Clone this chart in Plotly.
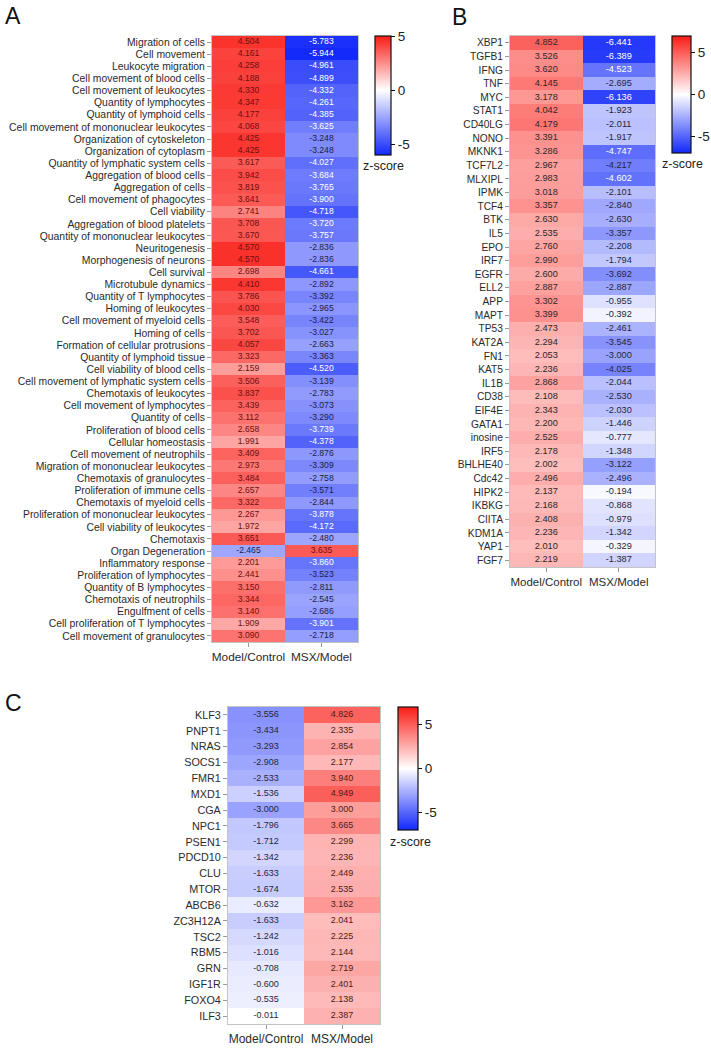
import plotly.graph_objects as go

W, H = 711, 1050
FONT = "Liberation Sans, Arial, Helvetica, sans-serif"

columns = ["Model/Control", "MSX/Model"]

# ---------------- Panel A ----------------
a_labels = [
    "Migration of cells", "Cell movement", "Leukocyte migration", "Cell movement of blood cells",
    "Cell movement of leukocytes", "Quantity of lymphocytes", "Quantity of lymphoid cells",
    "Cell movement of mononuclear leukocytes", "Organization of cytoskeleton", "Organization of cytoplasm",
    "Quantity of lymphatic system cells", "Aggregation of blood cells", "Aggregation of cells",
    "Cell movement of phagocytes", "Cell viability", "Aggregation of blood platelets",
    "Quantity of mononuclear leukocytes", "Neuritogenesis", "Morphogenesis of neurons", "Cell survival",
    "Microtubule dynamics", "Quantity of T lymphocytes", "Homing of leukocytes",
    "Cell movement of myeloid cells", "Homing of cells", "Formation of cellular protrusions",
    "Quantity of lymphoid tissue", "Cell viability of blood cells", "Cell movement of lymphatic system cells",
    "Chemotaxis of leukocytes", "Cell movement of lymphocytes", "Quantity of cells",
    "Proliferation of blood cells", "Cellular homeostasis", "Cell movement of neutrophils",
    "Migration of mononuclear leukocytes", "Chemotaxis of granulocytes", "Proliferation of immune cells",
    "Chemotaxis of myeloid cells", "Proliferation of mononuclear leukocytes", "Cell viability of leukocytes",
    "Chemotaxis", "Organ Degeneration", "Inflammatory response", "Proliferation of lymphocytes",
    "Quantity of B lymphocytes", "Chemotaxis of neutrophils", "Engulfment of cells",
    "Cell proliferation of T lymphocytes", "Cell movement of granulocytes",
]
a_model_control = [
    4.504, 4.161, 4.258, 4.188, 4.330, 4.347, 4.177, 4.068, 4.425, 4.425,
    3.617, 3.942, 3.819, 3.641, 2.741, 3.708, 3.670, 4.570, 4.570, 2.698,
    4.410, 3.786, 4.030, 3.548, 3.702, 4.057, 3.323, 2.159, 3.506, 3.837,
    3.439, 3.112, 2.658, 1.991, 3.409, 2.973, 3.484, 2.657, 3.322, 2.267,
    1.972, 3.651, -2.465, 2.201, 2.441, 3.150, 3.344, 3.140, 1.909, 3.090,
]
a_msx_model = [
    -5.783, -5.944, -4.961, -4.899, -4.332, -4.261, -4.385, -3.625, -3.248, -3.248,
    -4.027, -3.684, -3.765, -3.900, -4.718, -3.720, -3.757, -2.836, -2.836, -4.661,
    -2.892, -3.392, -2.965, -3.422, -3.027, -2.663, -3.363, -4.520, -3.139, -2.783,
    -3.073, -3.290, -3.739, -4.378, -2.876, -3.309, -2.758, -3.571, -2.844, -3.878,
    -4.172, -2.480, 3.635, -3.860, -3.523, -2.811, -2.545, -2.686, -3.901, -2.718,
]

# ---------------- Panel B ----------------
b_labels = [
    "XBP1", "TGFB1", "IFNG", "TNF", "MYC", "STAT1", "CD40LG", "NONO", "MKNK1", "TCF7L2",
    "MLXIPL", "IPMK", "TCF4", "BTK", "IL5", "EPO", "IRF7", "EGFR", "ELL2", "APP",
    "MAPT", "TP53", "KAT2A", "FN1", "KAT5", "IL1B", "CD38", "EIF4E", "GATA1", "inosine",
    "IRF5", "BHLHE40", "Cdc42", "HIPK2", "IKBKG", "CIITA", "KDM1A", "YAP1", "FGF7",
]
b_model_control = [
    4.852, 3.526, 3.620, 4.145, 3.178, 4.042, 4.179, 3.391, 3.286, 2.967,
    2.983, 3.018, 3.357, 2.630, 2.535, 2.760, 2.990, 2.600, 2.887, 3.302,
    3.399, 2.473, 2.294, 2.053, 2.236, 2.868, 2.108, 2.343, 2.200, 2.525,
    2.178, 2.002, 2.496, 2.137, 2.168, 2.408, 2.236, 2.010, 2.219,
]
b_msx_model = [
    -6.441, -6.389, -4.523, -2.695, -6.136, -1.923, -2.011, -1.917, -4.747, -4.217,
    -4.602, -2.101, -2.840, -2.630, -3.357, -2.208, -1.794, -3.692, -2.887, -0.955,
    -0.392, -2.461, -3.545, -3.000, -4.025, -2.044, -2.530, -2.030, -1.446, -0.777,
    -1.348, -3.122, -2.496, -0.194, -0.868, -0.979, -1.342, -0.329, -1.387,
]

# ---------------- Panel C ----------------
c_labels = [
    "KLF3", "PNPT1", "NRAS", "SOCS1", "FMR1", "MXD1", "CGA", "NPC1", "PSEN1", "PDCD10",
    "CLU", "MTOR", "ABCB6", "ZC3H12A", "TSC2", "RBM5", "GRN", "IGF1R", "FOXO4", "ILF3",
]
c_model_control = [
    -3.556, -3.434, -3.293, -2.908, -2.533, -1.536, -3.000, -1.796, -1.712, -1.342,
    -1.633, -1.674, -0.632, -1.633, -1.242, -1.016, -0.708, -0.600, -0.535, -0.011,
]
c_msx_model = [
    4.826, 2.335, 2.854, 2.177, 3.940, 4.949, 3.000, 3.665, 2.299, 2.236,
    2.449, 2.535, 3.162, 2.041, 2.225, 2.144, 2.719, 2.401, 2.138, 2.387,
]

BLUE = "rgb(18,40,250)"
RED = "rgb(250,28,22)"


def px_x(p):
    return p / W


def px_y(p):
    return 1 - p / H


panels = [
    dict(labels=a_labels, c1=a_model_control, c2=a_msx_model, box=(212, 358, 36, 642),
         zmin=-6, zmax=5, cb=(375, 391, 36, 155), lab=10.4, val=8.6, col=11.8,
         pos_col="#6a1010", neg_col="#202048", thr=-3.6, zs=(383, 166)),
    dict(labels=b_labels, c1=b_model_control, c2=b_msx_model, box=(510, 655, 36, 567),
         zmin=-7, zmax=7, cb=(672, 691, 36, 153), lab=10.2, val=9.2, col=11.5,
         pos_col="#2e2626", neg_col="#26263a", thr=-4.4, zs=(682, 164)),
    dict(labels=c_labels, c1=c_model_control, c2=c_msx_model, box=(228, 380, 707, 1024),
         zmin=-7, zmax=7, cb=(398, 418, 707, 830), lab=10.8, val=9, col=12,
         pos_col="#4a1c1c", neg_col="#26263a", thr=-9, zs=(410, 842)),
]

fig = go.Figure()
layout_axes = {}
annotations = []

for i, p in enumerate(panels):
    n = i + 1
    xa = "x" if n == 1 else f"x{n}"
    ya = "y" if n == 1 else f"y{n}"
    x0, x1, y0, y1 = p["box"]
    nrows = len(p["labels"])
    mid = -p["zmin"] / (p["zmax"] - p["zmin"])
    z = [[a, b] for a, b in zip(p["c1"], p["c2"])]
    cbx0, cbx1, cby0, cby1 = p["cb"]
    fig.add_trace(go.Heatmap(
        z=z, x=columns, y=p["labels"], xaxis=xa, yaxis=ya,
        zmin=p["zmin"], zmax=p["zmax"],
        colorscale=[[0, BLUE], [mid, "rgb(255,255,255)"], [1, RED]],
        hoverinfo="skip",
        colorbar=dict(
            x=px_x(cbx0), xanchor="left", xpad=0,
            y=px_y(cby0), yanchor="top", ypad=0,
            len=(cby1 - cby0) / H, lenmode="fraction",
            thickness=cbx1 - cbx0, thicknessmode="pixels",
            outlinewidth=1.2, outlinecolor="#111",
            tickvals=[-5, 0, 5], ticktext=["-5", "0", "5"],
            ticks="outside", ticklen=4, tickcolor="#111", tickwidth=1.2,
            tickfont=dict(family=FONT, size=13.5, color="#222"),
        ),
    ))
    xs, ys, ts, cs = [], [], [], []
    for col_name, vals in ((columns[0], p["c1"]), (columns[1], p["c2"])):
        for lab, v in zip(p["labels"], vals):
            xs.append(col_name)
            ys.append(lab)
            ts.append(f"{v:.3f}")
            if v >= 0:
                cs.append(p["pos_col"])
            elif v <= p["thr"]:
                cs.append("#ffffff")
            else:
                cs.append(p["neg_col"])
    fig.add_trace(go.Scatter(
        x=xs, y=ys, text=ts, mode="text", xaxis=xa, yaxis=ya,
        textfont=dict(family=FONT, size=p["val"], color=cs),
        hoverinfo="skip", showlegend=False,
    ))
    xkey = "xaxis" if n == 1 else f"xaxis{n}"
    ykey = "yaxis" if n == 1 else f"yaxis{n}"
    layout_axes[xkey] = dict(
        domain=[px_x(x0), px_x(x1)], anchor=ya, type="category",
        range=[-0.5, 1.5], autorange=False,
        tickmode="array", tickvals=columns,
        showgrid=False, zeroline=False, showline=True, mirror=True,
        linecolor="#c4c4c4", linewidth=1,
        ticks="outside", ticklen=4, tickcolor="#9a9a9a",
        tickfont=dict(family=FONT, size=p["col"], color="#2a2a2a"),
    )
    layout_axes[ykey] = dict(
        domain=[px_y(y1), px_y(y0)], anchor=xa, type="category",
        range=[nrows - 0.5, -0.5], autorange=False,
        tickmode="array", tickvals=p["labels"],
        showgrid=False, zeroline=False, showline=True, mirror=True,
        linecolor="#c4c4c4", linewidth=1,
        ticks="outside", ticklen=4, tickcolor="#9a9a9a",
        tickfont=dict(family=FONT, size=p["lab"], color="#2a2a2a"),
    )
    zx, zy = p["zs"]
    annotations.append(dict(
        text="z-score", x=px_x(zx), y=px_y(zy), xref="paper", yref="paper",
        xanchor="center", yanchor="middle", showarrow=False,
        font=dict(family=FONT, size=12.5, color="#222"),
    ))

for letter, (lx, ly) in zip(["A", "B", "C"], [(3, 16), (450, 17), (3, 703)]):
    annotations.append(dict(
        text=letter, x=px_x(lx), y=px_y(ly), xref="paper", yref="paper",
        xanchor="left", yanchor="middle", showarrow=False,
        font=dict(family=FONT, size=23, color="#111"),
    ))

fig.update_layout(
    width=W, height=H,
    margin=dict(l=0, r=0, t=0, b=0),
    paper_bgcolor="white", plot_bgcolor="white",
    font=dict(family=FONT),
    showlegend=False,
    annotations=annotations,
    **layout_axes,
)

fig.write_html(
    "out.html",
    config={"displayModeBar": False},
    post_script="document.body.style.margin='0';document.body.style.overflow='hidden';",
)
